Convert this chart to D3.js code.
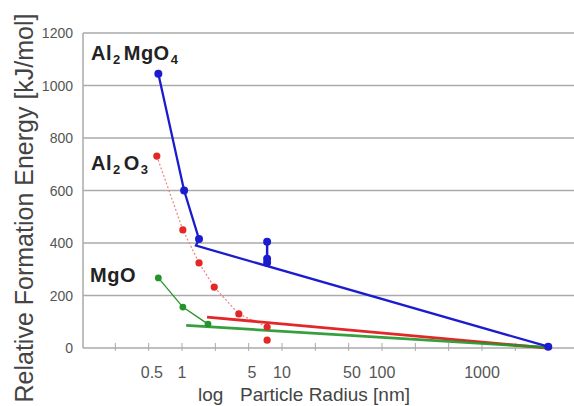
<!DOCTYPE html>
<html>
<head>
<meta charset="utf-8">
<script src="https://cdn.jsdelivr.net/npm/d3@7"></script>
<style>
  body { margin: 0; background: #fff; }
  svg text { font-family: "Liberation Sans", Arial, sans-serif; }
</style>
</head>
<body>
<script>
// y ticks and x tick labels
let yTicks = [0, 200, 400, 600, 800, 1000, 1200];
let xLabels = [0.5, 1, 5, 10, 50, 100, 1000];

// Al2MgO4 (blue)
let spinelR = [0.58, 1.05, 1.48];
let spinelE = [1045, 600, 415];
let spinelFitR = [1.38, 4600];
let spinelFitE = [390, 5];
let spinelBarR = [7.1, 7.1, 7.1];
let spinelBarE = [405, 340, 325];

// Al2O3 (red)
let aluminaR = [0.56, 1.02, 1.48, 2.1, 3.7, 7.1, 7.1];
let aluminaE = [731, 450, 324, 232, 130, 80, 30];
let aluminaFitR = [1.78, 4500];
let aluminaFitE = [118, 0];

// MgO (green)
let mgoR = [0.58, 1.02, 1.82];
let mgoE = [267, 156, 91];
let mgoFitR = [1.1, 4550];
let mgoFitE = [86, 2];

function graficar() {
  let w = 574;
  let h = 406;
  let left = 83;

  let svg = d3.select("body").append("svg").attr("width", w).attr("height", h);

  let x = d3.scaleLog().domain([1, 1000]).range([182, 482]);
  let y = d3.scaleLinear().domain([0, 1200]).range([348, 33]);

  // grid lines
  svg.selectAll("line.grid")
    .data(yTicks)
    .enter()
    .append("line")
    .attr("x1", left)
    .attr("x2", w)
    .attr("y1", d => y(d))
    .attr("y2", d => y(d))
    .attr("stroke", "#aaa")
    .attr("stroke-width", 1.5);

  // left axis line
  svg.append("line")
    .attr("x1", left).attr("x2", left)
    .attr("y1", y(1200)).attr("y2", y(0))
    .attr("stroke", "#aaa")
    .attr("stroke-width", 1.5);

  // minor ticks on x axis, three per decade
  let minor = d3.range(-2, 11).map(k => Math.pow(10, k / 3));
  svg.selectAll("line.tick")
    .data(minor)
    .enter()
    .append("line")
    .attr("x1", d => x(d))
    .attr("x2", d => x(d))
    .attr("y1", y(0) - 5)
    .attr("y2", y(0) + 3)
    .attr("stroke", "#aaa")
    .attr("stroke-width", 1);

  // tick labels
  svg.selectAll("text.ylab")
    .data(yTicks)
    .enter()
    .append("text")
    .text(d => d)
    .attr("x", 73)
    .attr("y", d => y(d))
    .attr("dy", "0.36em")
    .attr("text-anchor", "end")
    .attr("font-size", 14)
    .attr("fill", "#555");

  svg.selectAll("text.xlab")
    .data(xLabels)
    .enter()
    .append("text")
    .text(d => d)
    .attr("x", d => x(d))
    .attr("y", 378)
    .attr("text-anchor", "middle")
    .attr("font-size", 16)
    .attr("fill", "#555");

  // axis titles
  let xt = svg.append("text")
    .attr("y", 401)
    .attr("font-size", 19)
    .attr("fill", "#444");
  xt.append("tspan").attr("x", 198).text("log");
  xt.append("tspan").attr("x", 240).text("Particle Radius [nm]");

  svg.append("text")
    .attr("transform", "translate(33,208) rotate(-90)")
    .attr("text-anchor", "middle")
    .attr("font-size", 25)
    .attr("fill", "#444")
    .text("Relative Formation Energy [kJ/mol]");

  let line = d3.line().x(d => x(d[0])).y(d => y(d[1]));
  let pares = (a, b) => a.map((v, i) => [v, b[i]]);

  let azul = "#1c1ccf";
  let rojo = "#e32626";
  let verde = "#22952a";

  // Al2O3 thin dotted line
  svg.append("path")
    .attr("d", line(pares(aluminaR.slice(0, 6), aluminaE.slice(0, 6))))
    .attr("fill", "none")
    .attr("stroke", "#ee8080")
    .attr("stroke-width", 1.2)
    .attr("stroke-dasharray", "2,2");

  // MgO thin line
  svg.append("path")
    .attr("d", line(pares(mgoR, mgoE)))
    .attr("fill", "none")
    .attr("stroke", verde)
    .attr("stroke-width", 1.3);

  // fit lines
  svg.append("path")
    .attr("d", line(pares(aluminaFitR, aluminaFitE)))
    .attr("fill", "none")
    .attr("stroke", rojo)
    .attr("stroke-width", 2.8);

  svg.append("path")
    .attr("d", line(pares(mgoFitR, mgoFitE)))
    .attr("fill", "none")
    .attr("stroke", verde)
    .attr("stroke-width", 2.8)
    .attr("stroke-opacity", 0.9);

  // Al2MgO4 line: steep part then fit
  svg.append("path")
    .attr("d", line(pares(spinelR.concat(spinelFitR), spinelE.concat(spinelFitE))))
    .attr("fill", "none")
    .attr("stroke", azul)
    .attr("stroke-width", 2.3);

  svg.append("path")
    .attr("d", line(pares(spinelBarR, spinelBarE)))
    .attr("fill", "none")
    .attr("stroke", azul)
    .attr("stroke-width", 2.5);

  // points
  svg.selectAll("circle.al")
    .data(pares(aluminaR, aluminaE))
    .enter()
    .append("circle")
    .attr("cx", d => x(d[0]))
    .attr("cy", d => y(d[1]))
    .attr("r", 3.6)
    .attr("fill", rojo);

  svg.selectAll("circle.mg")
    .data(pares(mgoR, mgoE))
    .enter()
    .append("circle")
    .attr("cx", d => x(d[0]))
    .attr("cy", d => y(d[1]))
    .attr("r", 3.4)
    .attr("fill", verde);

  svg.selectAll("circle.sp")
    .data(pares(spinelR, spinelE).concat(pares(spinelBarR, spinelBarE), [[spinelFitR[1], spinelFitE[1]]]))
    .enter()
    .append("circle")
    .attr("cx", d => x(d[0]))
    .attr("cy", d => y(d[1]))
    .attr("r", 4)
    .attr("fill", azul);

  // compound labels
  function rotulo(px, py, partes) {
    let t = svg.append("text")
      .attr("x", px)
      .attr("y", py)
      .attr("font-weight", "bold")
      .attr("fill", "#222")
      .attr("letter-spacing", 0.5);
    partes.forEach(p => {
      if (p.sub) {
        t.append("tspan").attr("font-size", 13).attr("dy", 4).attr("dx", 1).text(p.t);
      } else {
        t.append("tspan").attr("font-size", 20).attr("dy", p.back ? -4 : 0).attr("dx", p.back ? 3 : 0).text(p.t);
      }
    });
  }
  rotulo(91, 60, [{ t: "Al" }, { t: "2", sub: true }, { t: "MgO", back: true }, { t: "4", sub: true }]);
  rotulo(91, 170, [{ t: "Al" }, { t: "2", sub: true }, { t: "O", back: true }, { t: "3", sub: true }]);
  rotulo(90, 282, [{ t: "MgO" }]);
}

graficar();
</script>
</body>
</html>
